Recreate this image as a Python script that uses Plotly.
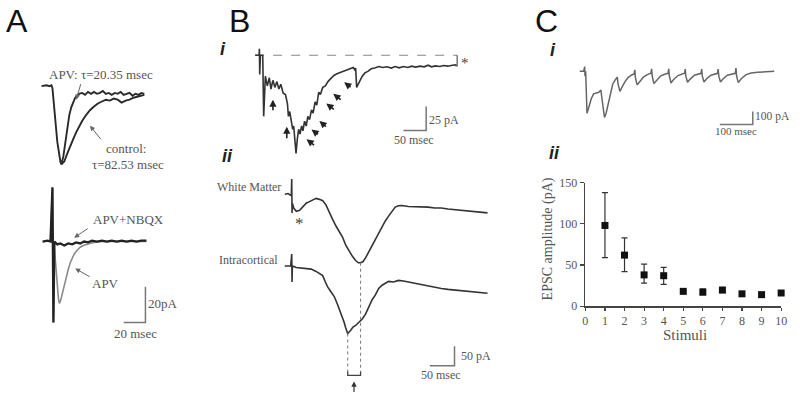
import plotly.graph_objects as go

W, H = 800, 401

# ======================= DATA =======================
# Panel A top: EPSCs, time (ms) from stimulus, current (pA)
a_apv_t = [-10, -5.5, -2.7, -0.9, 0, 1.8, 4.5, 7.3, 8.2, 10, 11.8, 13.6, 15.5, 17.3, 19.1, 20.9,
           22.7, 24.5, 27.3, 30, 32.7, 35.5, 38.2, 40.9, 43.6, 46.4, 49.1, 51.8, 54.5, 57.3, 60,
           62.7, 65.5, 68.2, 70.9, 73.6, 76.4, 79.1, 81.8, 84.5]
a_apv_i = [0, 0.5, 0, 0.5, -1.1, -15.1, -31.4, -42.2, -43.8, -39.5, -31.4, -23.2, -16.2, -11.9,
           -8.6, -6.5, -5.4, -4.3, -3.8, -4.9, -3.2, -4.3, -3.2, -4.3, -3.8, -2.7, -4.3, -3.8,
           -4.9, -3.8, -4.3, -3.2, -4.9, -4.3, -3.8, -5.4, -4.3, -4.9, -3.8, -4.3]
a_ctl_t = [8.2, 10.9, 13.6, 16.4, 19.1, 21.8, 24.5, 27.3, 30.9, 34.5, 38.2, 41.8, 45.5, 49.1,
           52.7, 56.4, 60, 63.6, 67.3, 70.9, 74.5, 78.2, 81.8, 84.5]
a_ctl_i = [-43.8, -42.2, -37.8, -34.1, -29.7, -25.9, -22.7, -19.5, -16.2, -13.5, -11.4, -9.7,
           -8.6, -7.6, -8.1, -7.0, -7.6, -9.2, -8.1, -7.6, -6.5, -5.9, -5.4, -4.9]

# Panel A bottom: APV+NBQX and APV
a_nbqx_t = [-9.1, -4.5, -1.8, 0, 0.9, 1.8, 4.5, 7.3, 10.9, 14.5, 18.2, 21.8, 25.5, 29.1, 32.7,
            36.4, 40.9, 45.5, 50, 54.5, 59.1, 63.6, 68.2, 72.7, 77.3, 81.8, 86.4]
a_nbqx_i = [0, 0.5, 0, 30.3, -45.4, 0, -1.6, -1.1, -2.2, -1.1, -1.6, -0.5, -1.1, 0, -0.5, 0.5,
            0, 0.5, 0, 0.5, 0, 0.5, 0, 0.5, 0, 0.5, 0.5]
a_apv2_t = [-1.8, 0, 0.9, 1.8, 3.6, 4.5, 5.5, 6.4, 7.3, 9.1, 10.9, 12.7, 14.5, 16.4, 18.2, 20,
            22.7, 25.5, 28.2, 30.9, 34.5, 38.2, 45.5, 54.5, 63.6, 72.7, 81.8, 86.4]
a_apv2_i = [0, 30.3, -45.4, -3.8, -17.3, -25.4, -31.9, -34.6, -33.5, -29.2, -24.3, -20, -15.7,
            -11.9, -9.2, -7, -4.9, -3.2, -2.2, -1.6, -1.1, -0.5, 0, 0, 0, 0, 0, 0]

# Panel B i: summed response to train
bi_t = [-8.7, 0, 0.7, 1.4, 2.9, 8, 10.1, 13.8, 18.1, 22.5, 26.1, 30.4, 34.8, 39.1, 43.5, 47.8,
        52.9, 58, 62.3, 64.5, 67.4, 70.3, 73.9, 76.1, 79, 81.2, 84.1, 87, 89.9, 93.5, 96.4, 100,
        103.6, 107.2, 110.9, 115.2, 118.8, 123.2, 126.8, 131.2, 134.8, 139.9, 145.7, 151.4, 158,
        165.2, 172.5, 179.7, 187, 194.2, 201.4, 207.2, 210.1, 212.3, 214.5, 218.1, 222.5, 226.8,
        232.6, 239.1, 246.4, 254.3, 263, 271.7, 281.2, 290.6, 299.3, 308, 317.4, 326.8, 335.5,
        344.2, 353.6, 363, 371.7, 379, 387.7, 397.1, 406.5, 415.2, 424.6, 434.1]
bi_i = [0, 0, 6.7, -20, 0, 0, -63.3, -21.7, -31.7, -23.3, -35, -26, -33.3, -27.3, -35, -30,
        -39.3, -40.7, -50, -63.3, -58.3, -66.7, -76.7, -73.3, -90, -101.7, -86.7, -76.7, -81.7,
        -73.3, -78.3, -68.3, -73.3, -63.3, -66.7, -56.7, -60, -48.3, -51.7, -38.3, -40.7, -33.3,
        -31.7, -27.3, -24, -20.7, -19, -17.7, -16.7, -15, -14, -12.7, -15, -13.3, -33.3, -30,
        -26.7, -21.7, -18.3, -16.7, -14, -13.3, -11.7, -12.7, -12, -13.3, -11.7, -13, -11.7,
        -12.7, -11.3, -12.3, -11.3, -12, -10.3, -12, -11, -11.7, -10.7, -11.3, -10.3, -10]
bi_baseline_t = [-8.7, 435.5]
bi_residual = 11

# Panel B ii: White Matter and Intracortical responses
wm_t = [-14, -7.3, -2.7, -0.7, 0, 0.7, 1.3, 4, 9.3, 16, 22.7, 29.3, 36, 42.7, 49.3, 56, 62.7,
        69.3, 76, 82.7, 89.3, 96, 102.7, 109.3, 116, 122.7, 129.3, 134.7, 139.3, 144, 149.3,
        156, 162.7, 169.3, 176, 182.7, 189.3, 196, 202.7, 209.3, 216, 222.7, 236, 249.3, 262.7,
        276, 289.3, 302.7, 316, 329.3, 342.7, 356, 369.3, 396]
wm_i = [0, 1.7, -2.5, 0, 39.2, -48.3, -23.3, -35.8, -44.2, -41.7, -31.7, -23.3, -19.2, -15,
        -10.8, -13.3, -16.7, -27.5, -44.2, -65, -81.7, -98.3, -110.8, -131.7, -148.3, -160.8,
        -171.7, -177.5, -177.5, -175, -165, -148.3, -131.7, -115, -98.3, -81.7, -69.2, -56.7,
        -44.2, -33.3, -30, -29.2, -31.7, -31.7, -33.3, -33.3, -35.8, -35.8, -38.3, -40, -41.7,
        -44.2, -46.7, -48.3]
ic_t = [-14, -7.3, -2, 0, 0.7, 1.3, 9.3, 19.3, 29.3, 39.3, 49.3, 56, 62.7, 68, 72.7, 79.3, 86,
        92.7, 99.3, 106, 109.3, 113.3, 119.3, 124, 129.3, 136, 142.7, 149.3, 156, 162.7, 169.3,
        176, 182.7, 189.3, 196, 206, 216, 226, 236, 249.3, 262.7, 276, 289.3, 302.7, 316, 329.3,
        342.7, 356, 369.3, 396]
ic_i = [0, -0.8, 0, 30.8, -41.7, 0, -4.2, -5.8, -5.8, -8.3, -14.2, -19.2, -25, -41.7, -54.2,
        -66.7, -79.2, -100, -120.8, -145.8, -160.8, -175, -166.7, -158.3, -154.2, -145.8, -137.5,
        -125, -104.2, -87.5, -75, -58.3, -50, -44.2, -40, -41.7, -37.5, -39.2, -41.7, -45.8, -50,
        -52.5, -55.8, -58.3, -60.8, -62.5, -64.2, -65.8, -68.3, -70.8]
peak_ic_t, peak_wm_t = 113.3, 139.3      # latency of the two peaks (ms)

# Panel C i: 10-pulse train
ci_t = [-15, -3, 0, 1, 3, 7, 13, 20, 27, 35, 43, 49, 51, 55, 60, 65, 71, 78, 85, 93, 99, 101,
        107, 113, 121, 131, 141, 150, 152, 154, 159, 167, 178, 190, 201, 203, 205, 210, 218,
        231, 245, 253, 255, 257, 262, 270, 283, 295, 303, 305, 307, 312, 320, 333, 345, 353,
        355, 357, 362, 370, 383, 395, 403, 405, 407, 412, 420, 433, 445, 457, 459, 461, 466,
        475, 490, 505, 525, 545, 575]
ci_i = [0, 0, 37.5, -37.5, 0, -325, -275, -212.5, -175, -170, -162.5, -145, -187.5, -287.5,
        -357.5, -325, -250, -162.5, -100, -65, -45, -95, -155, -125, -85, -50, -30, -20, 12.5,
        -50, -105, -80, -45, -25, -15, 20, -37.5, -95, -70, -35, -20, -15, 20, -37.5, -90, -62.5,
        -32.5, -20, -15, 17.5, -37.5, -85, -60, -30, -20, -15, 17.5, -37.5, -82.5, -57.5, -30,
        -20, -15, 17.5, -37.5, -82.5, -57.5, -30, -20, -15, 25, -37.5, -87.5, -57.5, -25, -12.5,
        -7.5, -5, 0]

# Panel C ii: EPSC amplitude vs stimulus number
stimuli = [1, 2, 3, 4, 5, 6, 7, 8, 9, 10]
epsc_mean = [98, 62, 38, 37, 18, 17, 19.5, 15, 14, 16]
epsc_upper = [138, 83, 51, 47, 20, 21, 23, 17, 15.5, 19]
epsc_lower = [59, 42, 28, 26.5, 16, 14, 17, 14, 13, 14.5]

# ============================ FIGURE ============================
fig = go.Figure()
layout = {}


def nm(n):
    return '' if n == 1 else str(n)


def axes(n, box, origin, scale):
    x0, y0, x1, y1 = box
    ox, oy = origin
    sx, sy = scale
    layout['xaxis' + nm(n)] = dict(domain=[x0 / W, x1 / W], range=[(x0 - ox) / sx, (x1 - ox) / sx],
                                   visible=False, anchor='y' + nm(n), fixedrange=True)
    layout['yaxis' + nm(n)] = dict(domain=[1 - y1 / H, 1 - y0 / H], range=[(oy - y1) / sy, (oy - y0) / sy],
                                   visible=False, anchor='x' + nm(n), fixedrange=True)


def line(n, x, y, color, width, dash=None, shape='linear'):
    fig.add_trace(go.Scatter(x=x, y=y, mode='lines', xaxis='x' + nm(n), yaxis='y' + nm(n),
                             line=dict(color=color, width=width, dash=dash, shape=shape),
                             hoverinfo='skip', showlegend=False))


def scalebar(n, t_end, i_end, len_t, len_i, color='#777', width=1.5):
    line(n, [t_end - len_t, t_end, t_end], [i_end, i_end, i_end + len_i], color, width)


axes(1, (0, 30, 220, 180), (50, 82), (1.1, 1.85))
axes(2, (0, 180, 220, 401), (50, 243), (1.1, 1.85))
axes(3, (225, 30, 480, 165), (259, 50), (0.46, 1.0))
axes(4, (225, 160, 500, 285), (292, 194), (0.5, 0.4))
axes(5, (225, 240, 500, 401), (292, 268.3), (0.5, 0.4))
axes(6, (560, 30, 800, 140), (588.3, 66.7), (1 / 3, 0.1333))

# Panel A
line(1, a_ctl_t, a_ctl_i, '#2a2a2a', 1.9)
line(1, a_apv_t, a_apv_i, '#2a2a2a', 1.9)
line(2, a_apv2_t, a_apv2_i, '#8a8a8a', 1.6)
line(2, a_nbqx_t, a_nbqx_i, '#222', 2.3)
scalebar(2, 85.5, -45.4, 20, 20)

# Panel B i
line(3, bi_baseline_t, [0, 0], '#888', 1.2, dash='dash')
line(3, bi_t, bi_i, '#333', 1.6)
line(3, [bi_baseline_t[1], bi_baseline_t[1], bi_baseline_t[1] - 4], [0, -bi_residual, -bi_residual], '#555', 1.2)
scalebar(3, 367.4, -78, 50, 25)

# Panel B ii
line(4, wm_t, wm_i, '#333', 1.6)
line(5, ic_t, ic_i, '#333', 1.6)
line(5, [peak_ic_t, peak_ic_t], [-175, -278], '#777', 1, dash='dot')
line(5, [peak_wm_t, peak_wm_t], [8.3, -278], '#777', 1, dash='dot')
line(5, [peak_ic_t, peak_ic_t, peak_wm_t, peak_wm_t], [-274, -283.3, -283.3, -274], '#444', 1.3)
scalebar(5, 329.3, -258.3, 50, 50)

# Panel C i
line(6, ci_t, ci_i, '#666', 1.5)
scalebar(6, 510, -412.5, 100, 100)

# Panel C ii
fig.add_trace(go.Scatter(
    x=stimuli, y=epsc_mean, mode='markers', xaxis='x7', yaxis='y7',
    marker=dict(symbol='square', size=7, color='#111'),
    error_y=dict(type='data', symmetric=False,
                 array=[u - m for u, m in zip(epsc_upper, epsc_mean)],
                 arrayminus=[m - l for m, l in zip(epsc_mean, epsc_lower)],
                 color='#333', thickness=1.2, width=3),
    hoverinfo='skip', showlegend=False, cliponaxis=False))

serif = 'Liberation Serif, Times New Roman, serif'
sans = 'Liberation Sans, Arial, sans-serif'
tickfont = dict(family=serif, size=12, color='#555')
layout['xaxis7'] = dict(domain=[589 / W, 787 / W], range=[0, 10], anchor='y7', tickmode='array',
                        tickvals=list(range(0, 11)), ticks='outside', ticklen=3, tickwidth=1.2,
                        tickcolor='#444', showline=True, linecolor='#444', linewidth=1.6,
                        showgrid=False, zeroline=False, tickfont=tickfont, fixedrange=True)
layout['yaxis7'] = dict(domain=[1 - 310 / H, 1 - 182 / H], range=[0, 150], anchor='x7',
                        tickmode='array', tickvals=[0, 50, 100, 150], ticks='outside', ticklen=4,
                        tickwidth=1.2, tickcolor='#444', showline=True, linecolor='#444',
                        linewidth=1.6, showgrid=False, zeroline=False, tickfont=tickfont,
                        fixedrange=True)

# ---------------- texts and arrows ----------------
anns = []


def P(px, py):
    return px / W, 1 - py / H


def text(s, px, py, size=13, family=serif, color='#555', angle=0, xanchor='center'):
    x, y = P(px, py)
    anns.append(dict(text=s, x=x, y=y, xref='paper', yref='paper', showarrow=False,
                     xanchor=xanchor, yanchor='middle', textangle=angle,
                     font=dict(family=family, size=size, color=color)))


def arrow(head, tail, color='#666', width=1, size=1, head_style=2):
    x, y = P(*head)
    anns.append(dict(text='', x=x, y=y, xref='paper', yref='paper', showarrow=True,
                     ax=tail[0] - head[0], ay=tail[1] - head[1], axref='pixel', ayref='pixel',
                     arrowhead=head_style, arrowsize=size, arrowwidth=width, arrowcolor=color))


text('A', 14, 14, 32, sans, '#111')
text('B', 239, 14, 32, sans, '#111')
text('C', 550, 14, 32, sans, '#111')
text('<b><i>i</i></b>', 223, 44, 18, sans, '#222')
text('<b><i>ii</i></b>', 227, 154, 18, sans, '#222')
text('<b><i>i</i></b>', 556, 45, 18, sans, '#222')
text('<b><i>ii</i></b>', 558, 151, 18, sans, '#222')

text('APV: τ=20.35 msec', 99, 70)
text('control:', 124, 147)
text('τ=82.53 msec', 126, 163)
text('APV+NBQX', 127, 220)
text('APV', 104, 287)
text('20pA', 162, 307)
text('20 msec', 134, 338)
arrow((74, 96), (79, 79))
arrow((88, 123), (100, 138))
arrow((72, 239), (87, 229))
arrow((73, 271), (89, 280))

text('25 pA', 446, 117, 12)
text('50 msec', 416, 138, 12)
text('*', 467, 58, 15, serif, '#444')
for h, t in [((273, 96), (273, 108)), ((287, 124), (287, 137)), ((307, 137), (316, 144)),
             ((312, 127), (320, 133)), ((320, 118), (328, 125)), ((327, 100), (336, 107)),
             ((334, 90), (343, 97)), ((345, 78), (353, 84))]:
    arrow(h, t, '#222', 1.6, 0.9)

text('White Matter', 283, 187, 12, xanchor='right')
text('*', 300, 224, 17, serif, '#444')
text('Intracortical', 280, 262, 12, xanchor='right')
text('50 pA', 478, 362, 12)
text('50 msec', 443, 381, 12)
arrow((355, 388), (355, 400), '#333', 1.2, 0.9)

text('100 pA', 778, 113, 11.5)
text('100 msec', 741, 129, 11)
text('EPSC amplitude (pA)', 551, 240, 14, angle=-90)
text('Stimuli', 690, 340, 15)

layout.update(width=W, height=H, autosize=False, margin=dict(l=0, r=0, t=0, b=0),
              paper_bgcolor='white', plot_bgcolor='rgba(0,0,0,0)', annotations=anns,
              showlegend=False)
fig.update_layout(**layout)

fig.write_html("out.html", config={'displayModeBar': False, 'staticPlot': True},
               post_script="document.body.style.margin='0';document.body.style.overflow='hidden';")
